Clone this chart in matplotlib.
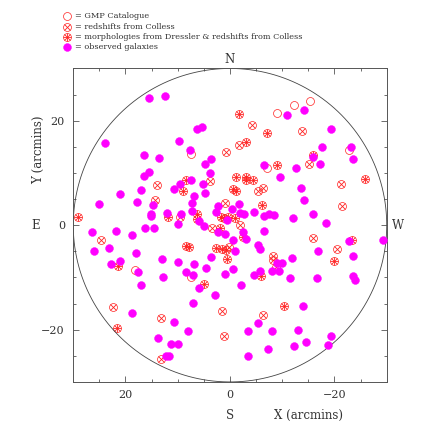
import numpy as np
import matplotlib
matplotlib.use('Agg')
import matplotlib.pyplot as plt

plt.rcParams['font.family'] = ['DejaVu Serif']

# observed galaxies (arcmin)
obs_x = [15.5, 12.5, 6.4, 5.3, 23.9, 9.7, 7.7, 16.4, 13.6, 3.6, 4.7, 15.5, 16.4, 3.9,
         7.5, 5.2, 9.5, 10.7, 17.1, 21.0, 4.8, 6.9, 17.8, 7.2, 25.0, 14.7, 2.2, 15.2,
         15.2, 12.0, 9.3, 2.7, 7.2, -11.0, -14.2, -19.3, -17.7, -23.2, -15.9, -17.3,
         -23.6, -6.6, -12.7, -9.5, -13.6, -14.1, -1.7, -0.3, -1.9, -2.7, -4.5, -6.6,
         -7.5, -8.5, -12.1, -15.9, -6.5, 26.4, 21.9, 18.8, 16.2, 14.5, 9.9, 23.2, 26.0,
         17.9, 21.0, 22.8, 13.1, 17.7, 9.9, 6.9, 12.9, 17.1, 8.5, 7.1, 4.6, 6.0, 2.9,
         7.1, 5.9, 5.0, 2.2, 0.9, -0.5, 3.7, 0.9, -0.6, 18.7, 10.7, 8.1, 13.7, 11.3,
         9.9, 12.2, 11.7, -18.3, -2.4, -3.1, -1.0, -5.4, -5.8, -22.8, -29.2, -16.8,
         -23.6, -11.8, -9.0, -10.0, -4.5, -5.7, -8.1, -9.3, -11.4, -16.6, -23.5, -23.9,
         -2.1, -13.9, -5.3, -3.5, -8.0, -13.1, -19.3, -14.6, -12.3, -18.7, -7.2, -3.5,
         0.6]
obs_y = [24.3, 24.8, 18.5, 18.8, 15.8, 16.2, 14.3, 13.5, 12.8, 12.7, 11.8, 10.1, 9.5, 10.0,
         8.6, 7.9, 7.9, 6.9, 6.7, 6.0, 6.1, 5.6, 4.5, 4.2, 4.0, 3.8, 3.6, 2.2,
         1.7, 2.4, 2.2, 2.5, 2.7, 21.1, 22.1, 18.5, 15.0, 14.9, 13.1, 11.7,
         12.6, 11.5, 10.9, 9.2, 7.1, 4.9, 4.0, 3.1, 2.4, 2.2, 2.6, 1.7,
         2.2, 1.9, 1.3, 2.2, -1.2, -1.3, -1.2, -1.9, -0.6, -0.5, 0.3, -4.3, -5.0,
         -5.4, -6.9, -7.4, -6.5, -8.9, -7.0, -7.5, -10.0, -11.4, -9.0, -9.5, -8.2, -12.1, -13.3,
         -14.8, 0.8, -0.2, -1.3, -1.6, -2.9, -6.0, -9.3, -8.4, -16.8, -18.5, -20.2, -21.5, -22.7,
         -22.7, -25.1, -25.0, 0.5, -1.3, -2.7, -4.9, -3.8, -4.6, -3.1, -2.9, -5.0,
         -5.9, -6.3, -7.2, -7.3, -9.5, -8.8, -8.8, -8.8, -10.2, -10.2, -9.7, -10.4,
         -11.5, -15.4, -18.7, -20.3, -20.2, -20.1, -21.3, -22.3, -23.2, -22.9, -23.7, -25.1,
         0.9]

# GMP catalogue only
gmp_x = [-9.0, -12.3, -15.4, -22.8, 7.5, 18.1, 7.5, -7.1]
gmp_y = [21.4, 23.0, 23.8, 14.3, 13.6, -8.5, -9.9, 11.0]

# redshifts from Colless
col_x = [0.8, 3.8, 14.0, 14.3, 1.0, 9.6, -4.2, -13.8, -1.8, -15.1, -6.3, -5.4, -21.2,
         -21.4, 24.7, 3.5, 1.5, 1.2, 22.3, 13.2, 13.2, -1.9, 0.1, -15.9, -20.4, -8.3,
         -8.3, -8.8, -6.3]
col_y = [14.0, 8.4, 7.6, 4.9, 4.2, 1.6, 19.1, 18.1, 15.3, 11.8, 7.1, 6.5, 7.8,
         3.6, -2.8, -0.5, -16.4, -21.3, -15.7, -17.7, -25.6, 0.1, -4.1, -2.4, -4.6, -5.9,
         -6.6, -8.0, -17.2]

# morphologies from Dressler & redshifts from Colless
dre_x = [8.5, 9.0, 29.1, -1.7, -7.1, -3.0, -15.8, -9.0, -1.2, -3.1, -3.1, -4.4, -25.9,
         -0.5, -1.1, -6.2, 11.8, 6.4, 6.3, 1.8, 1.2, 0.3, -1.0, 1.9, 2.6, 1.5, 0.8,
         8.4, 7.8, 21.4, 4.9, 21.7, 0.6, -2.5, -23.4, -20.0, -5.9, -10.3]
dre_y = [8.6, 6.6, 1.6, 21.3, 17.6, 15.9, 13.4, 11.6, 9.2, 9.2, 8.6, 8.6, 8.8,
         7.0, 6.5, 3.9, 1.5, 2.1, 1.1, 1.6, 1.4, 1.5, 1.3, -0.5, -4.3, -4.6, -4.7,
         -4.0, -4.1, -7.8, -11.2, -19.7, -6.4, -2.2, -2.8, -6.9, -9.8, -15.4]

legend_labels = ['= GMP Catalogue', '= redshifts from Colless',
                 '= morphologies from Dressler & redshifts from Colless',
                 '= observed galaxies']

RED = '#ff2020'
MAG = '#ff00ff'
TXT = '#333333'
MS = 5.7

fig = plt.figure(figsize=(4.36, 4.36), dpi=100)
ax = fig.add_axes([0.168, 0.124, 0.719, 0.719])


def ring(a, x, y, **kw):
    a.plot(x, y, 'o', ms=MS, mfc='none', mec=RED, mew=0.5, ls='none', **kw)


def cross(a, x, y, **kw):
    a.plot(x, y, 'x', ms=MS * 0.7, mec=RED, mew=0.6, ls='none', **kw)


def plus(a, x, y, **kw):
    a.plot(x, y, '+', ms=MS * 0.95, mec=RED, mew=0.6, ls='none', **kw)


ring(ax, gmp_x, gmp_y)
ring(ax, col_x, col_y)
cross(ax, col_x, col_y)
ring(ax, dre_x, dre_y)
cross(ax, dre_x, dre_y)
plus(ax, dre_x, dre_y)
ax.plot(obs_x, obs_y, 'o', ms=MS, mfc=MAG, mec=MAG, mew=0.3, ls='none', zorder=3)

t = np.linspace(0, 2 * np.pi, 400)
ax.plot(30 * np.cos(t), 30 * np.sin(t), color='#444444', lw=0.6)

ax.set_xlim(30, -30)
ax.set_ylim(-30, 30)
ax.set_aspect('equal')
ax.set_xticks([20, 0, -20])
ax.set_yticks([-20, 0, 20])
ax.set_xticklabels(['20', '0', '\u221220'])
ax.set_yticklabels(['\u221220', '0', '20'])
ax.set_xticks(np.arange(-30, 31, 5), minor=True)
ax.set_yticks(np.arange(-30, 31, 5), minor=True)
ax.tick_params(which='both', direction='in', top=True, right=True, color='#555555',
               width=0.6, labelsize=8, pad=6, labelcolor=TXT)
ax.tick_params(which='major', length=4.5)
ax.tick_params(which='minor', length=2.5)
for s in ax.spines.values():
    s.set_linewidth(0.7)
    s.set_color('#555555')

ax.text(0, 31.8, 'N', ha='center', va='center', fontsize=8.5, color=TXT)
ax.text(0, -36.5, 'S', ha='center', va='center', fontsize=8.5, color=TXT)
ax.text(37.2, 0, 'E', ha='center', va='center', fontsize=8.5, color=TXT)
ax.text(-32.2, 0, 'W', ha='center', va='center', fontsize=8.5, color=TXT)
ax.text(-15.0, -36.5, 'X (arcmins)', ha='center', va='center', fontsize=8.5, color=TXT)
ax.text(36.6, 14.5, 'Y (arcmins)', ha='center', va='center', fontsize=8.5,
        rotation=90, color=TXT)

# legend drawn by hand in figure coordinates
lax = fig.add_axes([0, 0, 1, 1], facecolor='none')
lax.set_xlim(0, 436)
lax.set_ylim(436, 0)
lax.axis('off')
ly = [16, 26.7, 36.7, 46.7]
lx = 66.5
ring(lax, [lx], [ly[0]])
ring(lax, [lx], [ly[1]])
cross(lax, [lx], [ly[1]])
ring(lax, [lx], [ly[2]])
cross(lax, [lx], [ly[2]])
plus(lax, [lx], [ly[2]])
lax.plot([lx], [ly[3]], 'o', ms=MS, mfc=MAG, mec=MAG, mew=0.3)
for yy, lab in zip(ly, legend_labels):
    lax.text(75, yy, lab, ha='left', va='center', fontsize=5.9, color=TXT)

fig.savefig('out.png', dpi=100)
